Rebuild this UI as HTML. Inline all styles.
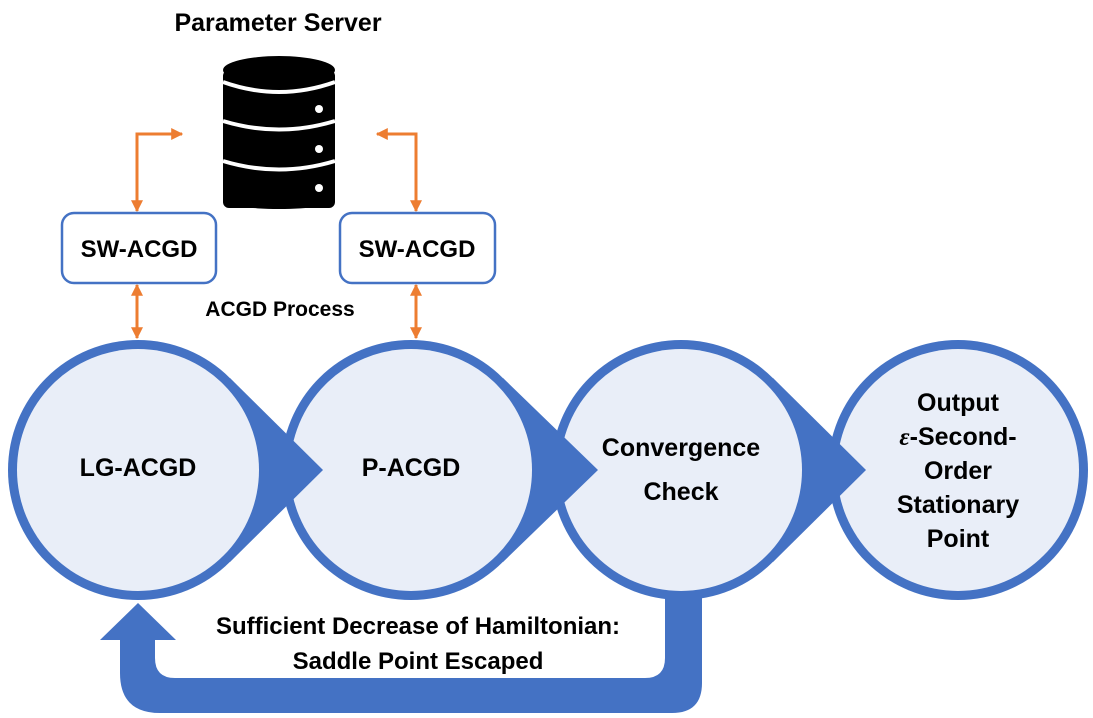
<!DOCTYPE html>
<html><head><meta charset="utf-8"><style>
html,body{margin:0;padding:0;background:#fff;}
svg{display:block;}
text{font-family:"Liberation Sans",Arial,sans-serif;font-weight:bold;fill:#000;}
</style></head><body>
<svg width="1093" height="718" viewBox="0 0 1093 718" xmlns="http://www.w3.org/2000/svg">
<defs>
<marker id="oa" viewBox="0 0 10 10" refX="9" refY="5" markerWidth="4" markerHeight="4" orient="auto-start-reverse">
<path d="M0,0 L10,5 L0,10 z" fill="#ED7D31"/></marker>
</defs>
<text x="278" y="31" font-size="25" text-anchor="middle">Parameter Server</text>
<!-- database -->
<g>
<rect x="223" y="70" width="112" height="138" rx="6" fill="#000"/>
<ellipse cx="279" cy="70" rx="56" ry="14" fill="#000"/>
<ellipse cx="279" cy="200" rx="56" ry="9" fill="#000"/>
<path d="M223,82 Q279,102 335,82" stroke="#fff" stroke-width="4" fill="none"/>
<path d="M223,121 Q279,138 335,121" stroke="#fff" stroke-width="4" fill="none"/>
<path d="M223,161 Q279,178 335,161" stroke="#fff" stroke-width="4" fill="none"/>
<circle cx="319" cy="109" r="4" fill="#fff"/>
<circle cx="319" cy="149" r="4" fill="#fff"/>
<circle cx="319" cy="188" r="4" fill="#fff"/>
</g>
<!-- orange arrows -->
<g stroke="#ED7D31" stroke-width="3" fill="none">
<path d="M137,211 L137,134 L182,134" marker-start="url(#oa)" marker-end="url(#oa)"/>
<path d="M416,211 L416,134 L377,134" marker-start="url(#oa)" marker-end="url(#oa)"/>
<path d="M137,285 L137,338" marker-start="url(#oa)" marker-end="url(#oa)"/>
<path d="M416,285 L416,338" marker-start="url(#oa)" marker-end="url(#oa)"/>
</g>
<!-- SW boxes -->
<rect x="62" y="213" width="154" height="70" rx="12" fill="#fff" stroke="#4472C4" stroke-width="2.5"/>
<rect x="340" y="213" width="155" height="70" rx="12" fill="#fff" stroke="#4472C4" stroke-width="2.5"/>
<text x="139" y="257" font-size="24" text-anchor="middle">SW-ACGD</text>
<text x="417" y="257" font-size="24" text-anchor="middle">SW-ACGD</text>
<text x="280" y="316" font-size="21" text-anchor="middle">ACGD Process</text>
<!-- loop arrow -->
<path d="M665,598 L702,598 L702,683 Q702,713 672,713 L160,713 Q120,713 120,673 L120,640 L100,640 L138,603 L176,640 L155,640 L155,658 Q155,678 175,678 L645,678 Q665,678 665,658 Z" fill="#4472C4"/>
<!-- circles, drawn right to left so arrow tips overlap next circle -->
<g>
<circle cx="958" cy="470" r="130" fill="#4472C4"/>
<circle cx="958" cy="470" r="121" fill="#E9EEF8"/>
</g>
<g>
<circle cx="681" cy="470" r="130" fill="#4472C4"/><polygon points="773,378 866,470 773,562" fill="#4472C4"/>
<circle cx="681" cy="470" r="121" fill="#E9EEF8"/>
</g>
<g>
<circle cx="411" cy="470" r="130" fill="#4472C4"/><polygon points="503,378 598,470 503,562" fill="#4472C4"/>
<circle cx="411" cy="470" r="121" fill="#E9EEF8"/>
</g>
<g>
<circle cx="138" cy="470" r="130" fill="#4472C4"/><polygon points="230,378 323,470 230,562" fill="#4472C4"/>
<circle cx="138" cy="470" r="121" fill="#E9EEF8"/>
</g>
<g font-size="25" text-anchor="middle">
<text x="138" y="476">LG-ACGD</text>
<text x="411" y="476">P-ACGD</text>
<text x="681" y="456">Convergence</text>
<text x="681" y="500">Check</text>
<text x="958" y="411">Output</text>
<text x="958" y="445"><tspan font-style="italic" font-family="Liberation Serif">ε</tspan>-Second-</text>
<text x="958" y="479">Order</text>
<text x="958" y="513">Stationary</text>
<text x="958" y="547">Point</text>
</g>
<text x="418" y="634" font-size="24" text-anchor="middle">Sufficient Decrease of Hamiltonian:</text>
<text x="418" y="669" font-size="24" text-anchor="middle">Saddle Point Escaped</text>
</svg>
</body></html>
